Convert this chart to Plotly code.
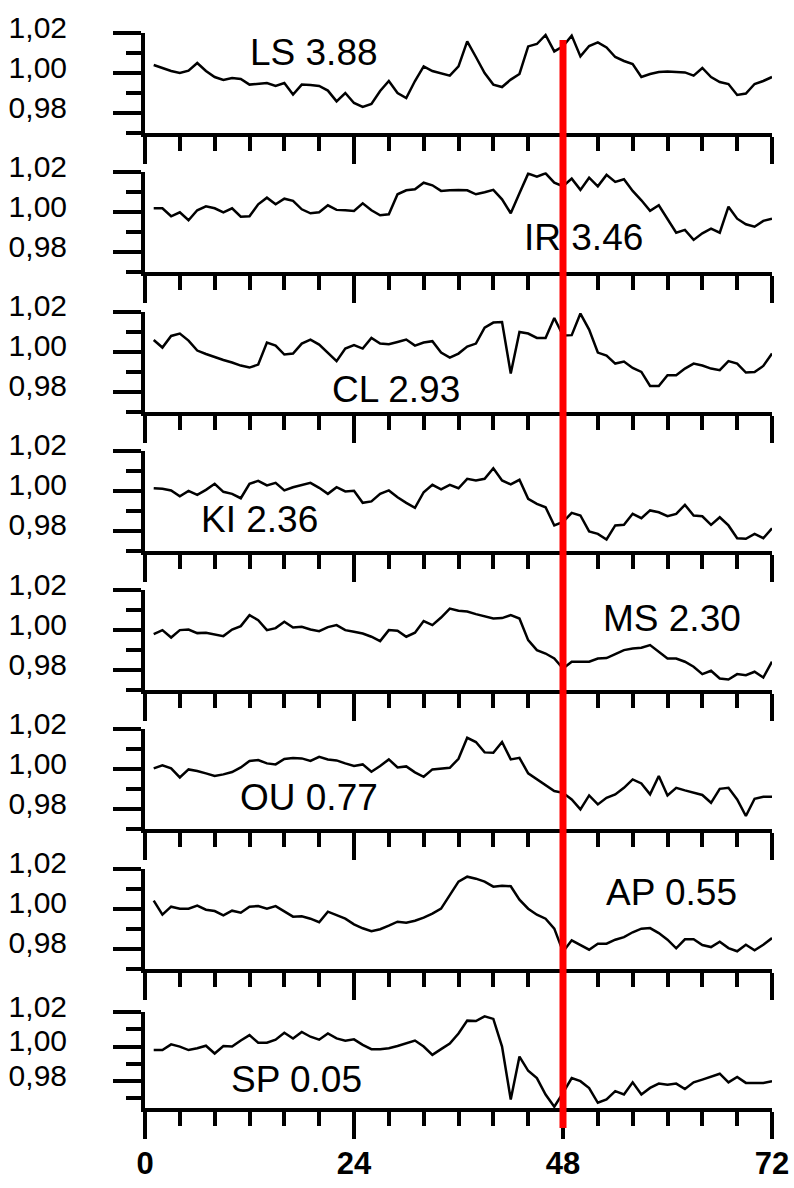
import plotly.graph_objects as go

# Hourly relative values for each station (hours 1..72)
hours = list(range(1, 73))

LS = [1.004, 1.0025, 1.001, 1.000, 1.0012, 1.005, 1.001, 0.998, 0.9965, 0.9975,
      0.997, 0.9942, 0.9945, 0.995, 0.9935, 0.995, 0.9892, 0.9942, 0.994, 0.9935,
      0.9912, 0.9858, 0.990, 0.985, 0.983, 0.9845, 0.991, 0.996, 0.990, 0.9875,
      0.996, 1.0033, 1.001, 0.9998, 0.9987, 1.0033, 1.0158, 1.008, 1.000, 0.9942,
      0.993, 0.9967, 0.9995, 1.0133, 1.0145, 1.019, 1.0108, 1.0133, 1.0187, 1.0083,
      1.0135, 1.0153, 1.0128, 1.008, 1.006, 1.0045, 0.998, 0.9995, 1.0005, 1.0008,
      1.0005, 1.0003, 0.9987, 1.0025, 0.998, 0.9955, 0.9945, 0.989, 0.9897, 0.9945,
      0.996, 0.998]

IR = [1.002, 1.002, 0.998, 1.0, 0.996, 1.001, 1.003, 1.002, 1.0, 1.002,
      0.9978, 0.998, 1.004, 1.0073, 1.004, 1.0068, 1.0057, 1.0015, 0.9995, 1.0,
      1.0035, 1.0012, 1.001, 1.0007, 1.0045, 1.001, 0.9985, 0.999, 1.009, 1.011,
      1.0115, 1.0148, 1.0135, 1.0107, 1.011, 1.0112, 1.011, 1.009, 1.010, 1.0112,
      1.0065, 0.9995, 1.0095, 1.0193, 1.0178, 1.0195, 1.0148, 1.013, 1.0168, 1.0112,
      1.0173, 1.013, 1.0187, 1.0152, 1.0165, 1.0107, 1.006, 1.0007, 1.0035, 0.9965,
      0.9898, 0.9912, 0.9862, 0.9895, 0.9918, 0.9898, 1.0028, 0.9968, 0.994, 0.9928,
      0.9957, 0.9968]

CL = [1.0058, 1.002, 1.0078, 1.009, 1.0055, 1.0005, 0.9988, 0.9972, 0.9958, 0.9945,
      0.993, 0.992, 0.9935, 1.0045, 1.003, 0.9985, 0.999, 1.004, 1.006, 1.0035,
      0.9995, 0.9952, 1.0015, 1.0032, 1.0015, 1.0068, 1.004, 1.0037, 1.0048, 1.006,
      1.003, 1.0045, 1.0052, 0.9995, 0.997, 0.999, 1.0025, 1.004, 1.012, 1.0145,
      1.0148, 0.989, 1.0098, 1.009, 1.0068, 1.0068, 1.0168, 1.008, 1.0082, 1.019,
      1.011, 0.9995, 0.998, 0.994, 0.995, 0.9918, 0.9898, 0.9828, 0.9828, 0.9882,
      0.9882, 0.9915, 0.994, 0.993, 0.9915, 0.9907, 0.9952, 0.994, 0.9895, 0.9898,
      0.9928, 0.999]

KI = [1.0013, 1.001, 1.0002, 0.9973, 1.0, 0.998, 1.0005, 1.0035, 0.9995, 0.9985,
      0.9963, 1.0035, 1.005, 1.0027, 1.004, 1.0002, 1.0018, 1.003, 1.004, 1.0015,
      0.9985, 1.0018, 0.9997, 1.0, 0.994, 0.9947, 0.9985, 1.0002, 0.9968, 0.994,
      0.9915, 0.9993, 1.003, 1.0007, 1.003, 1.0013, 1.006, 1.0052, 1.006, 1.0113,
      1.0052, 1.0032, 1.0055, 0.996, 0.9935, 0.9918, 0.9827, 0.9845, 0.989, 0.9877,
      0.9797, 0.9785, 0.9757, 0.9827, 0.983, 0.9885, 0.9863, 0.9902, 0.9893, 0.9873,
      0.9885, 0.993, 0.9877, 0.9873, 0.983, 0.9868, 0.9827, 0.9763, 0.976, 0.9785,
      0.9763, 0.9813]

MS = [0.998, 1.0, 0.9963, 1.0, 1.0003, 0.9985, 0.9987, 0.998, 0.997, 1.0003,
      1.002, 1.0075, 1.005, 1.0, 1.001, 1.0042, 1.0013, 1.0017, 1.0003, 0.9995,
      1.0015, 1.0025, 1.0, 0.9992, 0.9983, 0.9967, 0.9945, 1.0, 0.9997, 0.9967,
      0.9987, 1.0045, 1.0025, 1.0063, 1.0108, 1.0097, 1.0093, 1.008, 1.007, 1.0058,
      1.006, 1.0075, 1.0058, 0.995, 0.99, 0.9883, 0.9858, 0.9808, 0.9842, 0.9842,
      0.9842, 0.9858, 0.986, 0.988, 0.99, 0.9908, 0.9912, 0.9925, 0.9892, 0.9858,
      0.9858, 0.9842, 0.9817, 0.978, 0.9797, 0.9758, 0.9753, 0.978, 0.9775, 0.9792,
      0.9763, 0.9842]

OU = [1.0005, 1.002, 1.0005, 0.996, 1.0, 0.9992, 0.998, 0.9967, 0.9975, 0.9987,
      1.001, 1.0042, 1.0047, 1.003, 1.0025, 1.0052, 1.0057, 1.0055, 1.0042, 1.0063,
      1.005, 1.0045, 1.003, 1.0017, 1.0025, 0.9988, 1.0017, 1.005, 1.001, 1.0015,
      0.9985, 0.9963, 1.0, 1.0005, 1.0008, 1.0053, 1.0158, 1.0137, 1.0085, 1.0083,
      1.0137, 1.005, 1.0058, 0.998, 0.995, 0.992, 0.9892, 0.9883, 0.985, 0.98,
      0.987, 0.9825, 0.9858, 0.9875, 0.9908, 0.995, 0.993, 0.9875, 0.9967, 0.987,
      0.9908, 0.9895, 0.9883, 0.9872, 0.9833, 0.9903, 0.9908, 0.985, 0.9767, 0.9853,
      0.9863, 0.9863]

AP = [1.004, 0.997, 1.001, 1.0, 1.0, 1.0015, 0.9995, 0.9988, 0.9967, 0.999,
      0.998, 1.001, 1.0013, 1.0, 1.0013, 0.9985, 0.996, 0.9962, 0.995, 0.9932,
      0.9985, 0.9968, 0.995, 0.9922, 0.9902, 0.9887, 0.9897, 0.9915, 0.9935, 0.993,
      0.994, 0.9955, 0.9975, 1.0, 1.007, 1.0135, 1.016, 1.015, 1.0135, 1.011,
      1.0115, 1.0112, 1.0045, 1.0, 0.997, 0.995, 0.99, 0.9785, 0.9842, 0.9817,
      0.9795, 0.9825, 0.9825, 0.9845, 0.9858, 0.9882, 0.99, 0.9903, 0.9878, 0.9845,
      0.9802, 0.9847, 0.9847, 0.9818, 0.9808, 0.9835, 0.9803, 0.9787, 0.982, 0.9792,
      0.982, 0.9853]

SP = [0.998, 0.998, 1.0013, 1.0, 0.998, 0.999, 1.0005, 0.996, 1.0003, 1.0,
      1.0035, 1.0066, 1.0022, 1.0022, 1.004, 1.008, 1.0047, 1.0085, 1.0057, 1.004,
      1.0076, 1.0047, 1.0034, 1.0042, 1.001, 0.9985, 0.9985, 0.999, 1.0003, 1.002,
      1.0035, 1.0, 0.9952, 0.9985, 1.0017, 1.0076, 1.015, 1.0148, 1.0175, 1.016,
      1.0, 0.9694, 0.9942, 0.986, 0.9818, 0.9723, 0.9652, 0.9732, 0.9818, 0.98,
      0.976, 0.9675, 0.9694, 0.9742, 0.9723, 0.9793, 0.9723, 0.9761, 0.9786, 0.978,
      0.9786, 0.9755, 0.9793, 0.9809, 0.9828, 0.9843, 0.9793, 0.9824, 0.979, 0.979,
      0.979, 0.9799]

stations = ["LS", "IR", "CL", "KI", "MS", "OU", "AP", "SP"]
scores = ["3.88", "3.46", "2.93", "2.36", "2.30", "0.77", "0.55", "0.05"]
series = [LS, IR, CL, KI, MS, OU, AP, SP]

# label anchor (hour, value) inside each panel
label_hour = [19.4, 50.3, 28.8, 13.2, 60.5, 18.8, 60.5, 17.4]
label_value = [1.0105, 0.9873, 0.981, 0.9855, 1.006, 0.986, 1.008, 0.981]

x_ticks = [0, 24, 48, 72]
y_ticks = [0.98, 1.00, 1.02]
event_hour = 48

# page geometry (pixels)
W, H = 794, 1188
L, R, T, B = 145, 22, 33, 80
plot_h = H - T - B
bottoms = [133 + 139.28 * k for k in range(8)]
tops = [b - 100 for b in bottoms[:7]] + [1012]
y_ranges = [[0.97, 1.02]] * 7 + [[0.9645, 1.02]]


def to_paper(py):
    return min(1.0, max(0.0, (H - B - py) / plot_h))


def to_paper_free(py):
    return (H - B - py) / plot_h


fig = go.Figure()
font_family = "Liberation Sans, Arial, sans-serif"
layout = dict(
    width=W, height=H,
    margin=dict(l=L, r=R, t=T, b=B, autoexpand=False),
    paper_bgcolor="white", plot_bgcolor="white",
    showlegend=False,
    separators=",.",
    font=dict(family=font_family, color="black"),
)

annotations = []
for k in range(8):
    xn = "x" if k == 0 else f"x{k + 1}"
    yn = "y" if k == 0 else f"y{k + 1}"
    fig.add_trace(go.Scatter(x=hours, y=series[k], mode="lines",
                             line=dict(color="black", width=2.5),
                             xaxis=xn, yaxis=yn, hoverinfo="skip"))
    last = (k == 7)
    layout["xaxis" if k == 0 else f"xaxis{k + 1}"] = dict(
        domain=[0, 1], range=[0, 72], anchor=yn, automargin=False,
        showline=True, linewidth=4, linecolor="black",
        showgrid=False, zeroline=False,
        tickmode="array", tickvals=x_ticks,
        ticks="outside", ticklen=27, tickwidth=4, tickcolor="black",
        minor=dict(tickmode="array", tickvals=list(range(4, 72, 4)),
                   ticks="outside", ticklen=14, tickwidth=4, tickcolor="black",
                   showgrid=False),
        showticklabels=last,
        tickfont=dict(size=31, family=font_family, color="black", weight="bold"),
        ticklabelstandoff=-2,
    )
    layout["yaxis" if k == 0 else f"yaxis{k + 1}"] = dict(
        domain=[to_paper(bottoms[k]), to_paper(tops[k])],
        range=y_ranges[k], anchor=xn, automargin=False,
        showline=True, linewidth=4, linecolor="black",
        showgrid=False, zeroline=False,
        tickmode="array", tickvals=y_ticks, tickformat=".2f",
        ticks="outside", ticklen=28, tickwidth=4, tickcolor="black",
        minor=dict(tickmode="array", tickvals=[0.97, 0.99, 1.01],
                   ticks="outside", ticklen=15, tickwidth=4, tickcolor="black",
                   showgrid=False),
        tickfont=dict(size=30, family=font_family, color="black"),
        ticklabelstandoff=40, ticklabelshift=-6,
    )
    annotations.append(dict(
        x=label_hour[k], y=label_value[k], xref=xn, yref=yn,
        text=f"{stations[k]} {scores[k]}", showarrow=False,
        xanchor="center", yanchor="middle",
        font=dict(size=37, family=font_family, color="black"),
    ))

layout["annotations"] = annotations
layout["shapes"] = [dict(
    type="line", xref="x", yref="paper",
    x0=event_hour, x1=event_hour, y0=to_paper_free(1128), y1=to_paper_free(40),
    line=dict(color="#ff0000", width=7), layer="above",
)]

fig.update_layout(**layout)
fig.write_html("out.html")
